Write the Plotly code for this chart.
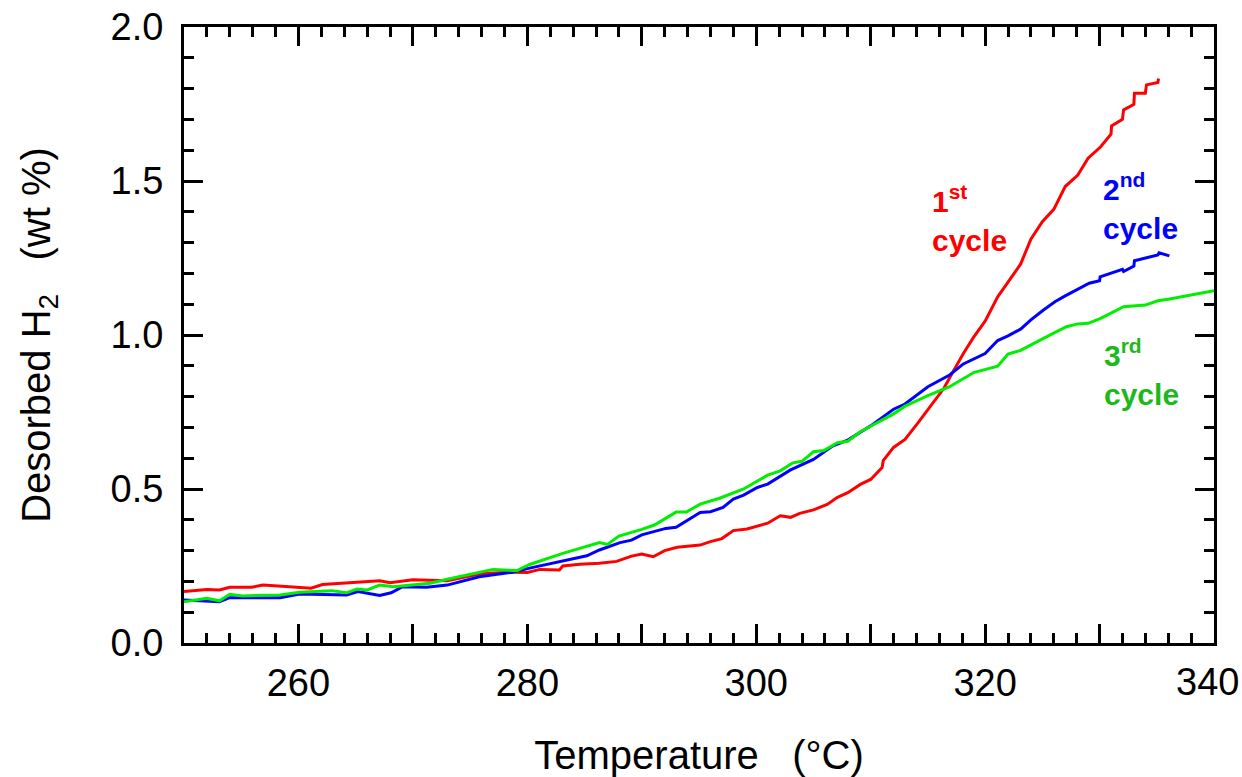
import plotly.graph_objects as go

# ---- data ----
t_red = [250.0, 252.0, 253.1, 254.0, 255.9, 256.9, 259.2, 261.1, 262.1, 265.0, 267.1, 268.0, 270.0,
         273.0, 274.1, 276.1, 278.7, 280.0, 281.1, 282.8, 283.1, 284.6, 286.3, 287.8, 289.1, 290.0,
         291.0, 292.0, 293.1, 295.1, 296.0, 297.0, 298.0, 299.2, 301.0, 302.1, 303.0, 303.8, 305.0,
         306.2, 307.1, 308.0, 309.1, 310.0, 311.0, 311.1, 312.0, 313.0, 314.1, 315.2, 316.4, 317.2,
         318.1, 319.0, 320.0, 321.1, 322.0, 323.1, 324.0, 325.0, 326.0, 327.0, 328.1, 329.0, 330.1,
         331.0, 331.05, 332.0, 332.1, 333.0, 333.05, 334.0, 334.1, 335.1, 335.15]
h_red = [0.167, 0.174, 0.172, 0.181, 0.181, 0.188, 0.183, 0.178, 0.190, 0.197, 0.202, 0.196, 0.205,
         0.202, 0.210, 0.226, 0.230, 0.229, 0.239, 0.237, 0.250, 0.256, 0.259, 0.265, 0.282, 0.289,
         0.280, 0.300, 0.311, 0.318, 0.329, 0.339, 0.365, 0.370, 0.389, 0.413, 0.408, 0.421, 0.432,
         0.450, 0.473, 0.488, 0.515, 0.531, 0.570, 0.592, 0.635, 0.661, 0.713, 0.767, 0.827, 0.881,
         0.940, 0.993, 1.045, 1.124, 1.173, 1.230, 1.311, 1.368, 1.408, 1.482, 1.519, 1.574, 1.611,
         1.652, 1.679, 1.700, 1.731, 1.749, 1.785, 1.785, 1.812, 1.820, 1.833]

t_blue = [250.0, 253.1, 254.0, 258.4, 260.1, 264.2, 265.2, 267.1, 268.1, 269.1, 271.2, 273.0, 275.8,
          278.7, 280.2, 283.1, 285.2, 286.3, 288.1, 289.1, 290.0, 292.1, 293.0, 295.1, 296.0, 297.1,
          298.0, 298.9, 300.1, 301.0, 303.0, 305.0, 306.7, 308.0, 310.0, 312.0, 313.0, 315.0, 316.9,
          318.1, 320.0, 321.1, 322.0, 323.1, 324.0, 325.1, 326.1, 327.0, 328.1, 329.1, 330.0, 330.05,
          332.0, 332.1, 333.0, 333.05, 335.1, 335.2, 336.1]
h_blue = [0.140, 0.134, 0.147, 0.147, 0.159, 0.156, 0.167, 0.154, 0.163, 0.183, 0.181, 0.188, 0.215,
          0.230, 0.243, 0.267, 0.283, 0.302, 0.326, 0.334, 0.351, 0.372, 0.376, 0.424, 0.426, 0.440,
          0.467, 0.480, 0.505, 0.516, 0.562, 0.596, 0.640, 0.659, 0.705, 0.759, 0.776, 0.832, 0.870,
          0.906, 0.940, 0.982, 0.997, 1.019, 1.049, 1.081, 1.108, 1.127, 1.148, 1.168, 1.176, 1.189,
          1.213, 1.206, 1.224, 1.241, 1.260, 1.267, 1.257]

t_green = [250.0, 252.0, 253.1, 254.0, 255.1, 258.4, 260.1, 262.9, 264.2, 265.1, 266.0, 267.1, 268.3,
           270.0, 271.5, 273.0, 275.0, 277.0, 279.1, 280.2, 283.1, 286.0, 286.3, 287.0, 288.0, 290.0,
           291.1, 293.0, 293.9, 295.1, 296.8, 298.9, 301.0, 302.1, 303.2, 304.0, 305.0, 305.9, 307.1,
           308.0, 309.1, 312.0, 313.0, 315.0, 316.9, 319.0, 321.1, 322.0, 323.1, 325.1, 327.1, 328.1,
           329.0, 330.1, 331.0, 332.1, 334.0, 335.1, 336.0, 338.0, 340.0]
h_green = [0.134, 0.145, 0.137, 0.158, 0.153, 0.156, 0.165, 0.170, 0.163, 0.175, 0.172, 0.188, 0.183,
           0.188, 0.194, 0.207, 0.223, 0.239, 0.235, 0.255, 0.291, 0.324, 0.326, 0.320, 0.347, 0.369,
           0.383, 0.425, 0.425, 0.451, 0.470, 0.500, 0.545, 0.559, 0.585, 0.590, 0.621, 0.625, 0.650,
           0.655, 0.686, 0.744, 0.769, 0.803, 0.832, 0.878, 0.899, 0.938, 0.950, 0.989, 1.027, 1.036,
           1.038, 1.054, 1.070, 1.092, 1.097, 1.111, 1.116, 1.130, 1.144]

x_tickvals = [250, 260, 270, 280, 290, 300, 310, 320, 330, 340]
x_ticktext = ["", "260", "", "280", "", "300", "", "320", "", ""]
x_edge_label = "340"   # drawn separately so it is not clipped at the page edge
y_tickvals = [0.0, 0.5, 1.0, 1.5, 2.0]
y_ticktext = ["0.0", "0.5", "1.0", "1.5", "2.0"]

labels = [
    ("1<sup>st</sup><br>cycle", 315.2, 1.51, "#ff0000"),
    ("2<sup>nd</sup><br>cycle", 330.1, 1.55, "#0000ff"),
    ("3<sup>rd</sup><br>cycle", 330.2, 1.01, "#1db81d"),
]

FONT = "Arial, 'Liberation Sans', Helvetica, sans-serif"

fig = go.Figure()
for t, h, c in [(t_red, h_red, "#ff0000"), (t_blue, h_blue, "#0000ff"), (t_green, h_green, "#00ee00")]:
    fig.add_trace(go.Scatter(x=t, y=h, mode="lines", line=dict(color=c, width=3), showlegend=False,
                             cliponaxis=True))

for txt, x, y, c in labels:
    fig.add_annotation(x=x, y=y, xref="x", yref="y", text=txt, showarrow=False,
                       xanchor="left", yanchor="top", align="left",
                       font=dict(family=FONT, size=30, color=c, weight="bold"))

fig.add_annotation(x=340, y=0, xref="x", yref="paper", text=x_edge_label, showarrow=False,
                   xanchor="right", yanchor="top", xshift=27, yshift=-16,
                   font=dict(family=FONT, size=38, color="black"))

axis_common = dict(showline=True, linecolor="black", linewidth=3, mirror="ticks",
                   ticks="inside", tickcolor="black", tickwidth=3, ticklen=19,
                   showgrid=False, zeroline=False, automargin=False,
                   tickfont=dict(family=FONT, size=38, color="black"))

fig.update_xaxes(range=[250, 340], tickmode="array", tickvals=x_tickvals, ticktext=x_ticktext,
                 ticklabelstandoff=4,
                 title=dict(text="Temperature   (°C)", font=dict(family=FONT, size=40, color="black"),
                            standoff=40),
                 minor=dict(tickmode="linear", tick0=250, dtick=2, ticks="inside", ticklen=10,
                            tickwidth=3, tickcolor="black", showgrid=False),
                 **axis_common)
fig.update_yaxes(range=[0, 2], tickmode="array", tickvals=y_tickvals, ticktext=y_ticktext,
                 ticklabelstandoff=10,
                 title=dict(text="Desorbed H<sub>2</sub>   (wt %)",
                            font=dict(family=FONT, size=40, color="black"), standoff=48),
                 minor=dict(tickmode="linear", tick0=0, dtick=0.1, ticks="inside", ticklen=10,
                            tickwidth=3, tickcolor="black", showgrid=False),
                 **axis_common)

fig.update_layout(width=1242, height=777, margin=dict(l=184, r=28, t=27, b=134),
                  paper_bgcolor="white", plot_bgcolor="white")

fig.write_html("out.html")
